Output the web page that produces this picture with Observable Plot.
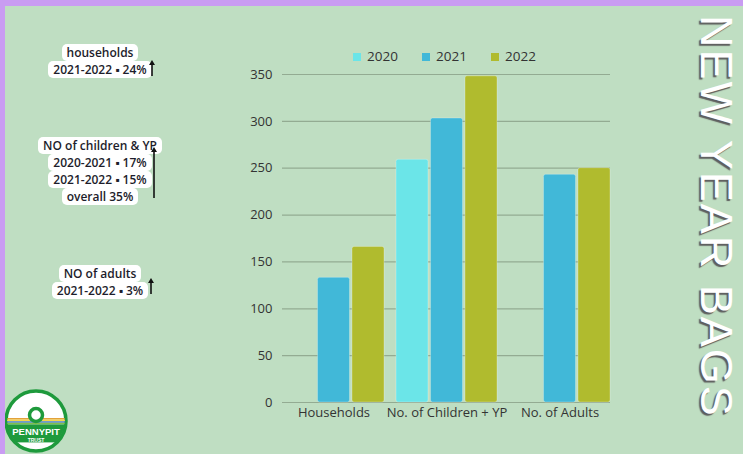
<!DOCTYPE html>
<html><head><meta charset="utf-8">
<script src="https://cdn.jsdelivr.net/npm/d3@7"></script>
<script src="https://cdn.jsdelivr.net/npm/@observablehq/plot@0.6"></script>
<style>
html,body{margin:0;padding:0;}
body{width:743px;height:454px;overflow:hidden;background:#bfdec2;position:relative;font-family:"Open Sans",sans-serif;}
#chart{position:absolute;left:0;top:0;}
#topbar{position:absolute;left:0;top:0;width:743px;height:6px;background:#c99cf2;}
#leftbar{position:absolute;left:0;top:0;width:5px;height:454px;background:#c99cf2;}
.sw{position:absolute;width:8px;height:8px;}
.lt{position:absolute;font-size:13.5px;color:#333;line-height:16px;}
.note{position:absolute;left:0;width:200px;text-align:center;}
.note span{display:inline-block;background:#fff;border-radius:5px;padding:0 5px;font-size:12px;font-weight:600;line-height:17px;color:#1d1d2b;white-space:nowrap;}
#title{position:absolute;left:741px;top:15px;transform-origin:0 0;transform:rotate(90deg);font-family:"Liberation Sans",Arial,sans-serif;font-size:45px;line-height:50px;letter-spacing:2px;color:#fff;white-space:nowrap;text-shadow:2px 2px 1px #5e5e5e;}
#logo{position:absolute;left:0;top:385px;}
#arrows{position:absolute;left:0;top:0;}
</style></head><body>
<div id="chart"></div>
<div id="legend"></div>
<div id="notes"></div>
<svg id="arrows" width="200" height="320"></svg>
<div id="title">NEW YEAR BAGS</div>
<svg id="logo" width="75" height="69">
  <defs><clipPath id="cc"><circle cx="36" cy="36" r="29"/></clipPath></defs>
  <circle cx="36" cy="36" r="30" fill="#fff" stroke="#1e9a3c" stroke-width="3.5"/>
  <g clip-path="url(#cc)">
    <rect x="0" y="33" width="75" height="1.6" fill="#e3a23a"/>
    <rect x="0" y="34.6" width="75" height="1.6" fill="#f2d64b"/>
    <rect x="0" y="36.2" width="75" height="1.6" fill="#4f86c6"/>
    <rect x="0" y="37.8" width="75" height="1.6" fill="#7fbf4a"/>
    <rect x="0" y="39.4" width="75" height="18" fill="#1e9a3c"/>
  </g>
  <circle cx="36" cy="30" r="6.5" fill="#fff" stroke="#1e9a3c" stroke-width="3.5"/>
  <text x="36" y="50" text-anchor="middle" font-family="Liberation Sans,Arial,sans-serif" font-weight="700" font-size="9.5" fill="#fff">PENNYPIT</text>
  <text x="36" y="57" text-anchor="middle" font-family="Liberation Sans,Arial,sans-serif" font-weight="700" font-size="5" fill="#fff">TRUST</text>
</svg>
<div id="topbar"></div><div id="leftbar"></div>
<script>
const categories = ["Households", "No. of Children + YP", "No. of Adults"];
const years = ["2020", "2021", "2022"];
const colors = ["#6be5e8", "#41b8d8", "#b0bb2e"];
const values2020 = [null, 259, null];
const values2021 = [133, 303, 243];
const values2022 = [166, 348, 250];
const yTicks = [0, 50, 100, 150, 200, 250, 300, 350];

const noteHouseholds = ["households", "2021-2022 ▪ 24%"];
const noteChildren = ["NO of children & YP", "2020-2021 ▪ 17%", "2021-2022 ▪ 15%", "overall 35%"];
const noteAdults = ["NO of adults", "2021-2022 ▪ 3%"];

const seriesValues = [values2020, values2021, values2022];
const rows = [];
years.forEach((yr, i) => {
  categories.forEach((c, j) => {
    const v = seriesValues[i][j];
    if (v != null) rows.push({category: c, year: yr, value: v});
  });
});

const slot = 34.5;
const chart = Plot.plot({
  width: 743, height: 454,
  marginLeft: 282, marginRight: 133, marginTop: 74, marginBottom: 52,
  style: {background: "transparent", fontFamily: "'Open Sans',sans-serif", fontSize: "13px", color: "#333", overflow: "visible"},
  x: {domain: categories, paddingInner: 0.11, paddingOuter: 0, tickSize: 0, tickPadding: 5, label: null},
  y: {domain: [0, 350], ticks: yTicks, tickSize: 0, tickPadding: 10, label: null},
  marks: [
    Plot.ruleY(yTicks, {stroke: "#93ab92", strokeWidth: 1.2}),
    ...years.map((yr, i) => Plot.barY(rows.filter(r => r.year === yr), {
      x: "category", y: "value", fill: colors[i],
      insetLeft: i * slot, insetRight: (2 - i) * slot, rx: 2,
      stroke: "#ffffff", strokeOpacity: 0.25
    }))
  ]
});
document.getElementById("chart").appendChild(chart);

// legend
const legend = document.getElementById("legend");
years.forEach((yr, i) => {
  const sw = document.createElement("div");
  sw.className = "sw";
  sw.style.left = (353 + 69 * i) + "px";
  sw.style.top = "53px";
  sw.style.background = colors[i];
  legend.appendChild(sw);
  const t = document.createElement("div");
  t.className = "lt";
  t.style.left = (367 + 69 * i) + "px";
  t.style.top = "48px";
  t.textContent = yr;
  legend.appendChild(t);
});

// notes
const notes = document.getElementById("notes");
[[noteHouseholds, 48], [noteChildren, 141], [noteAdults, 269]].forEach(([lines, cy]) => {
  lines.forEach((line, k) => {
    const d = document.createElement("div");
    d.className = "note";
    d.style.top = (cy - 8.5 + 17 * k) + "px";
    const s = document.createElement("span");
    s.textContent = line;
    d.appendChild(s);
    notes.appendChild(d);
  });
});

// arrows
const svg = d3.select("#arrows");
[[152, 60, 76], [154, 147, 198], [151, 278, 294]].forEach(([x, y1, y2]) => {
  svg.append("line").attr("x1", x).attr("x2", x).attr("y1", y1 + 3).attr("y2", y2).attr("stroke", "#111").attr("stroke-width", 1.6);
  svg.append("path").attr("d", `M${x - 3},${y1 + 5}L${x},${y1}L${x + 3},${y1 + 5}Z`).attr("fill", "#111");
});
</script>
</body></html>
